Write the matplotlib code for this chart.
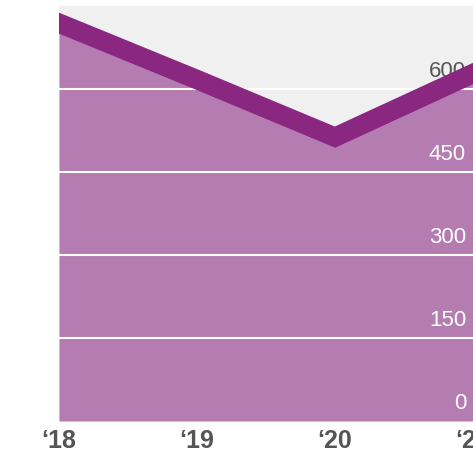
import matplotlib
matplotlib.use("Agg")
import matplotlib.pyplot as plt

years = [2018, 2019, 2020, 2021]
year_labels = ["\u201818", "\u201819", "\u201820", "\u201821"]
values = [719, 617, 513, 628]
y_ticks = [0, 150, 300, 450, 600]

line_color = "#8a2781"
fill_color = "#b57cb1"
bg_color = "#f0f0f0"
text_gray = "#555555"

plt.rcParams["font.family"] = ["Liberation Sans", "DejaVu Sans"]

fig = plt.figure(figsize=(4.73, 4.57), dpi=100)
ax = fig.add_axes([59 / 473, 1 - 421 / 457, 1 - 59 / 473, (421 - 6) / 457])
ax.set_facecolor(bg_color)

ax.fill_between(years, values, 0, color=fill_color, lw=0, zorder=1)
for t in y_ticks[1:]:
    ax.axhline(t, color="white", lw=1.5, zorder=2)

low = min(values)
for t in y_ticks:
    ax.annotate(str(t), xy=(1, t), xycoords=("axes fraction", "data"),
                xytext=(-5, 8.5), textcoords="offset points",
                ha="right", va="baseline", fontsize=16,
                color="white" if t < low else text_gray, zorder=3)

# projecting caps, trimmed by the axes clip, give flush vertical ends
ax.plot(years, values, color=line_color, lw=14, solid_joinstyle="miter",
        solid_capstyle="projecting", zorder=4)

ax.set_xlim(years[0], years[-1])
ax.set_ylim(0, 750)
ax.set_yticks([])
ax.set_xticks(years)
ax.set_xticklabels(year_labels, fontsize=18, fontweight="bold", color=text_gray)
ax.tick_params(axis="x", length=0, pad=6)
for s in ax.spines.values():
    s.set_visible(False)

fig.savefig("out.png", dpi=100)
